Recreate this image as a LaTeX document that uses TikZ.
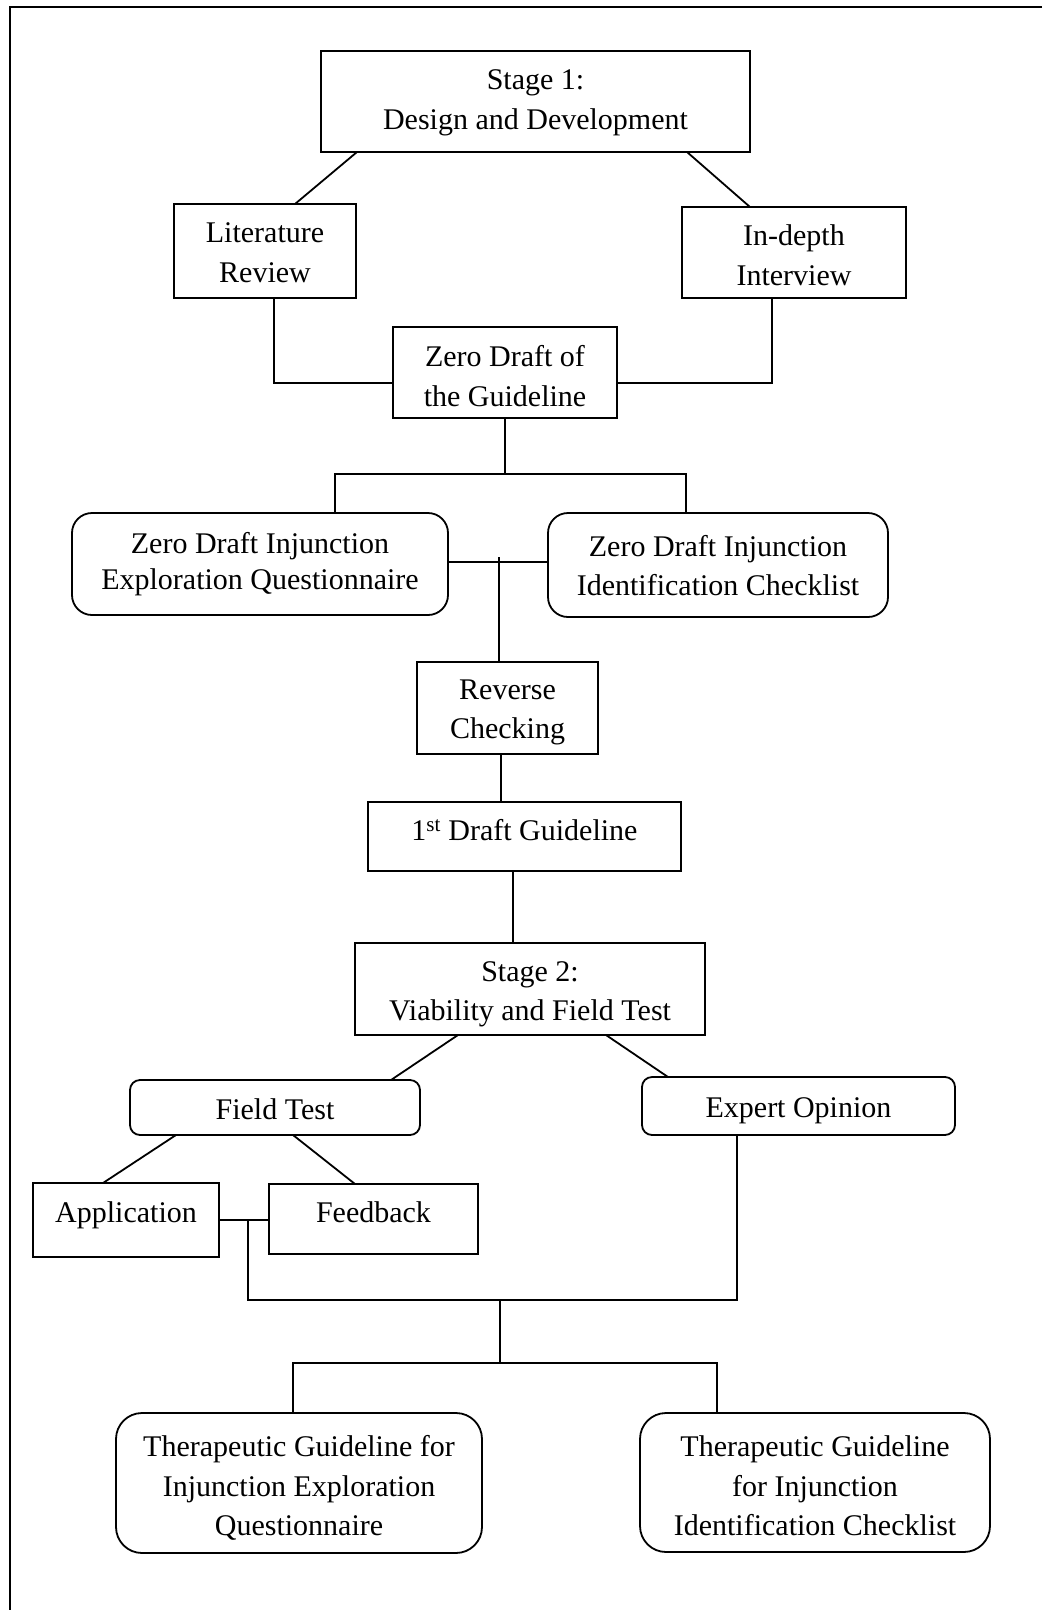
\documentclass[tikz,border=0pt]{standalone}
\usepackage{fontspec}
\setmainfont{Liberation Serif}
\usetikzlibrary{calc}
% centred block of lines, moved up or down without changing its size
\newcommand{\boxtext}[2][0pt]{\raisebox{#1}[\height][\depth]{\begin{tabular}{@{}c@{}}#2\end{tabular}}}
\newcommand{\oneline}[2]{\raisebox{#1}[\height][\depth]{#2}}
\begin{document}
\begin{tikzpicture}[x=1pt,y=-1pt,
  line width=1.8pt,
  box/.style={draw, line width=1.8pt, inner sep=0pt, outer sep=0pt,
    align=center, font=\fontsize{30}{39.5}\selectfont},
  rbox/.style={box, rounded corners=20pt},
  sbox/.style={box, rounded corners=10pt},
  tbox/.style={box, rounded corners=26pt},
  wire/.style={line width=1.8pt}]
\useasboundingbox (0,0) rectangle (1048,1610);
% page frame (top and left rules)
\draw[line width=2pt] (1042,7) -- (10,7) -- (10,1610);

% Stage 1
\node[box, minimum width=429pt, minimum height=101pt] (s1) at (535.5,101.5) {\boxtext{Stage 1:\\Design and Development}};
\node[box, minimum width=182pt, minimum height=94pt] (lit) at (265,251) {\boxtext[-3.5pt]{Literature\\Review}};
\node[box, minimum width=224pt, minimum height=91pt] (ind) at (794,252.5) {\boxtext[-5pt]{In-depth\\Interview}};
\node[box, minimum width=224pt, minimum height=91pt] (zd) at (505,372.5) {\boxtext[-6pt]{Zero Draft of\\the Guideline}};
\node[rbox, minimum width=376pt, minimum height=102pt, font=\fontsize{30}{36.5}\selectfont] (zq) at (260,564) {\boxtext{Zero Draft Injunction\\Exploration Questionnaire}};
\node[rbox, minimum width=340pt, minimum height=104pt] (zc) at (718,565) {\boxtext[-3pt]{Zero Draft Injunction\\Identification Checklist}};
\node[box, minimum width=181pt, minimum height=92pt] (rc) at (507.5,708) {\boxtext[-3pt]{Reverse\\Checking}};
\node[box, minimum width=313pt, minimum height=69pt] (fd) at (524.5,836.5) {\oneline{6pt}{1\textsuperscript{st} Draft Guideline}};

% Stage 2
\node[box, minimum width=350pt, minimum height=92pt] (s2) at (530,989) {\boxtext[-4pt]{Stage 2:\\Viability and Field Test}};
\node[sbox, minimum width=290pt, minimum height=55pt] (ft) at (275,1107.5) {\oneline{-2pt}{Field Test}};
\node[sbox, minimum width=313pt, minimum height=58pt] (eo) at (798.5,1106) {\oneline{-5pt}{Expert Opinion}};
\node[box, minimum width=186pt, minimum height=74pt] (app) at (126,1220) {\oneline{4.5pt}{Application}};
\node[box, minimum width=209pt, minimum height=70pt] (fb) at (373.5,1219) {\oneline{6.5pt}{Feedback}};
\node[tbox, minimum width=366pt, minimum height=140pt] (tq) at (299,1483) {\boxtext[-5.5pt]{Therapeutic Guideline for\\Injunction Exploration\\Questionnaire}};
\node[tbox, minimum width=350pt, minimum height=139pt] (tc) at (815,1482.5) {\boxtext[-6pt]{Therapeutic Guideline\\for Injunction\\Identification Checklist}};

% junctions
\coordinate (j1) at ($(zd.south)+(0,56)$);
\coordinate (j2) at ($(rc.north)+(-8.5,-105)$);
\coordinate (j4) at (500,1300);
\coordinate (j5) at (500,1363);

% connectors, stage 1
\draw[wire] ([xshift=36pt]s1.south west) -- ([xshift=121pt]lit.north west);
\draw[wire] ([xshift=-63pt]s1.south east) -- ([xshift=68pt]ind.north west);
\draw[wire] ([xshift=100pt]lit.south west) |- ([yshift=-10.5pt]zd.west);
\draw[wire] ([xshift=90pt]ind.south west) |- ([yshift=-10.5pt]zd.east);
\draw[wire] (zd.south) -- (j1);
\draw[wire] ([xshift=75pt]zq.north) |- (j1) -| ([xshift=-32pt]zc.north);
\draw[wire] ([yshift=2pt]zq.east) -- ([yshift=2pt]zq.east -| zc.west);
\draw[wire] (j2) -- ([xshift=-8.5pt]rc.north);
\draw[wire] ([xshift=-6.5pt]rc.south) -- ([xshift=-6.5pt]rc.south |- fd.north);
\draw[wire] ([xshift=-11.5pt]fd.south) -- ([xshift=-11.5pt]fd.south |- s2.north);

% connectors, stage 2
\draw[wire] ([xshift=103pt]s2.south west) -- ([xshift=261pt]ft.north west);
\draw[wire] ([xshift=251pt]s2.south west) -- ([xshift=26pt]eo.north west);
\draw[wire] ([xshift=46pt]ft.south west) -- ([xshift=70pt]app.north west);
\draw[wire] ([xshift=163pt]ft.south west) -- ([xshift=86pt]fb.north west);
\draw[wire] (app.east) -- (app.east -| fb.west);
\draw[wire] ([xshift=29pt]app.east) |- (j4) -| ([xshift=-61.5pt]eo.south);
\draw[wire] (j4) -- (j5);
\draw[wire] ([xshift=-6pt]tq.north) |- (j5) -| ([xshift=-98pt]tc.north);
\end{tikzpicture}
\end{document}
